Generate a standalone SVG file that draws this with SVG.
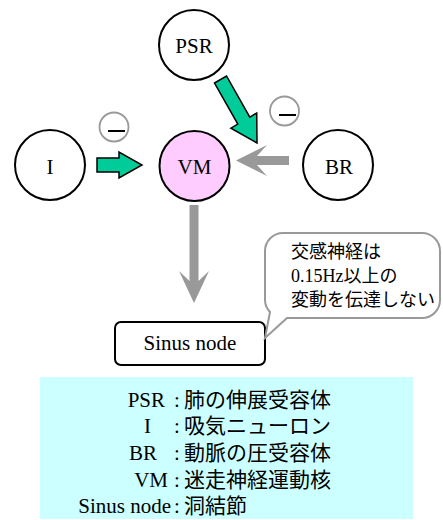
<svg xmlns="http://www.w3.org/2000/svg" width="443" height="520" viewBox="0 0 443 520">
  <style>
    .node { fill: #ffffff; stroke: #000000; stroke-width: 2; }
    .vm { fill: #ffccff; }
    .lbl { font-family: "Liberation Serif", "Noto Sans CJK JP", serif; font-size: 21px; fill: #000000; }
    .ja { font-family: "Liberation Serif", "Noto Sans CJK JP", serif; font-size: 18px; fill: #000000; }
    .leg { font-family: "Liberation Serif", "Noto Sans CJK JP", serif; font-size: 21px; fill: #000000; }
    .excite { fill: #00cc99; stroke: #000000; stroke-width: 1.5; stroke-linejoin: miter; }
    .inhib { fill: #999999; stroke: none; }
    .minus circle { fill: #ffffff; stroke: #999999; stroke-width: 1.8; }
    .minus line { stroke: #000000; stroke-width: 2; }
  </style>

  <!-- legend panel -->
  <g id="legend">
    <rect x="40" y="377" width="373" height="142" fill="#ccffff"/>
    <text class="leg">
      <tspan x="165" y="407" text-anchor="end">PSR</tspan><tspan x="174" y="407">:</tspan><tspan x="184" y="407">肺の伸展受容体</tspan>
    </text>
    <text class="leg">
      <tspan x="151" y="433" text-anchor="end">I</tspan><tspan x="174" y="433">:</tspan><tspan x="184" y="433">吸気ニューロン</tspan>
    </text>
    <text class="leg">
      <tspan x="157" y="460" text-anchor="end">BR</tspan><tspan x="174" y="460">:</tspan><tspan x="184" y="460">動脈の圧受容体</tspan>
    </text>
    <text class="leg">
      <tspan x="168" y="487" text-anchor="end">VM</tspan><tspan x="174" y="487">:</tspan><tspan x="184" y="487">迷走神経運動核</tspan>
    </text>
    <text class="leg">
      <tspan x="171" y="513" text-anchor="end">Sinus node</tspan><tspan x="174" y="513">:</tspan><tspan x="184" y="513">洞結節</tspan>
    </text>
  </g>

  <!-- connectors -->
  <g id="connectors">
    <!-- PSR -> VM (excitatory) -->
    <polygon class="excite" points="214.5,83 226.5,76 249.8,117.1 256.7,113 257,143 230.9,128.2 237.8,124.1"/>
    <!-- I -> VM (excitatory) -->
    <polygon class="excite" points="97,158 119,158 119,152 142,165 119,178 119,172 97,172"/>
    <!-- BR -> VM (inhibitory) -->
    <polygon class="inhib" points="289,156 257,156 267,145 236,160.5 267,176 257,165 289,165"/>
    <!-- VM -> Sinus node -->
    <polygon class="inhib" points="189.5,205 198.5,205 198.5,281 209,271 194,303 179,271 189.5,281"/>
  </g>

  <!-- inhibition marks -->
  <g id="minus-i" class="minus">
    <circle cx="114" cy="127" r="14.5"/>
    <line x1="108" y1="131" x2="125" y2="131"/>
  </g>
  <g id="minus-br" class="minus">
    <circle cx="284.5" cy="111" r="14.5"/>
    <line x1="279" y1="115" x2="296" y2="115"/>
  </g>

  <!-- nodes -->
  <g id="psr">
    <circle class="node" cx="194" cy="45" r="35"/>
    <text class="lbl" x="194" y="53" text-anchor="middle">PSR</text>
  </g>
  <g id="i">
    <circle class="node" cx="50" cy="165" r="35"/>
    <text class="lbl" x="50" y="174" text-anchor="middle">I</text>
  </g>
  <g id="vm">
    <circle class="node vm" cx="194.5" cy="166" r="35"/>
    <text class="lbl" x="194.5" y="174" text-anchor="middle">VM</text>
  </g>
  <g id="br">
    <circle class="node" cx="338" cy="165" r="35"/>
    <text class="lbl" x="339" y="174" text-anchor="middle">BR</text>
  </g>
  <g id="sinus">
    <rect x="115" y="322" width="150" height="43" rx="6" fill="#ffffff" stroke="#000000" stroke-width="2"/>
    <text class="lbl" x="190" y="350" text-anchor="middle">Sinus node</text>
  </g>

  <!-- callout -->
  <g id="callout">
    <path d="M 283,233 H 422 A 18,18 0 0 1 440,251 V 300 A 18,18 0 0 1 422,318 H 287 L 265,338 L 270,312 A 18,18 0 0 1 265,300 V 251 A 18,18 0 0 1 283,233 Z" fill="#ffffff" stroke="#999999" stroke-width="2"/>
    <text class="ja" x="291" y="258">交感神経は</text>
    <text class="ja" x="291" y="282">0.15Hz以上の</text>
    <text class="ja" x="291" y="306">変動を伝達しない</text>
  </g>
</svg>
